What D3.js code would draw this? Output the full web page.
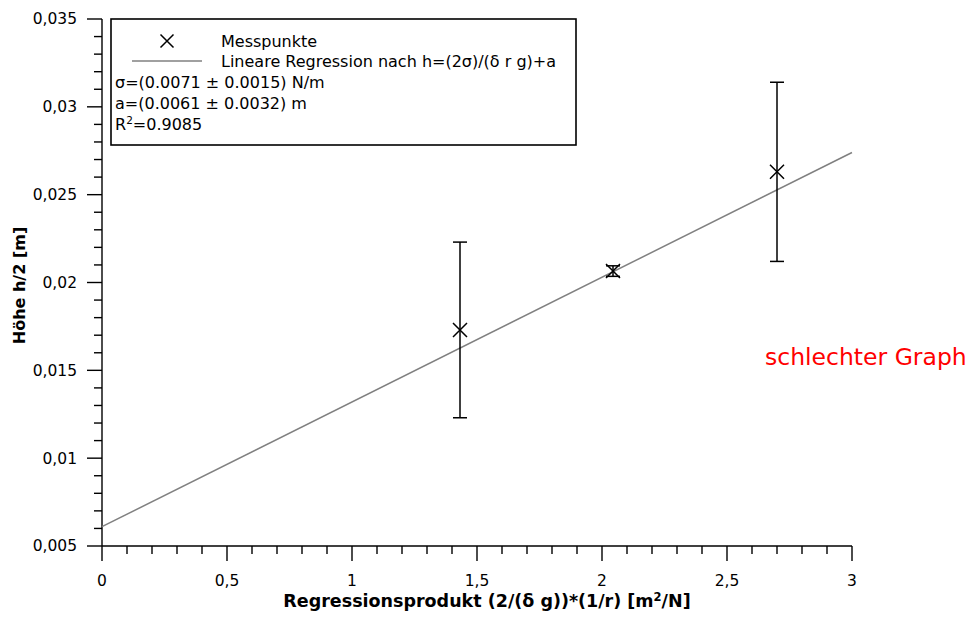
<!DOCTYPE html>
<html>
<head>
<meta charset="utf-8">
<script src="https://cdn.jsdelivr.net/npm/d3@7"></script>
<style>
  html, body { margin: 0; padding: 0; background: #fff; }
  svg { display: block; }
  text { font-family: "DejaVu Sans", Verdana, sans-serif; }
</style>
</head>
<body>
<svg id="chart" width="971" height="619"></svg>
<script>
// ---- data ----
const xValues = [1.432, 2.044, 2.700];
const yValues = [0.0173, 0.02065, 0.02630];
const yErrors = [0.0050, 0.0003, 0.0051];
const fitSlope = 0.0071;       // sigma
const fitIntercept = 0.0061;   // a
const xTickValues = [0, 0.5, 1, 1.5, 2, 2.5, 3];
const xTickLabels = ["0", "0,5", "1", "1,5", "2", "2,5", "3"];
const yTickValues = [0.005, 0.01, 0.015, 0.02, 0.025, 0.03, 0.035];
const yTickLabels = ["0,005", "0,01", "0,015", "0,02", "0,025", "0,03", "0,035"];
const legendLines = ["σ=(0.0071 ± 0.0015) N/m", "a=(0.0061 ± 0.0032) m"];

const svg = d3.select("#chart");
const pLeft = 102, pRight = 852, pTop = 19, pBottom = 546;

const x = d3.scaleLinear().domain([0, 3]).range([pLeft, pRight]);
const y = d3.scaleLinear().domain([0.005, 0.035]).range([pBottom, pTop]);

// minor ticks
const xMinor = d3.range(0, 3.0001, 0.1).map(v => +v.toFixed(2)).filter(v => !xTickValues.some(t => Math.abs(t - v) < 1e-6));
const yMinor = d3.range(0.005, 0.03501, 0.001).map(v => +v.toFixed(4)).filter(v => !yTickValues.some(t => Math.abs(t - v) < 1e-7));

const ax = svg.append("g").attr("stroke", "#000").attr("stroke-width", 1.4);
ax.append("line").attr("x1", pLeft).attr("x2", pRight).attr("y1", pBottom).attr("y2", pBottom);
ax.append("line").attr("x1", pLeft).attr("x2", pLeft).attr("y1", pTop).attr("y2", pBottom);
ax.selectAll(".xM").data(xTickValues).join("line")
  .attr("x1", d => x(d)).attr("x2", d => x(d)).attr("y1", pBottom).attr("y2", pBottom + 15);
ax.selectAll(".xm").data(xMinor).join("line")
  .attr("x1", d => x(d)).attr("x2", d => x(d)).attr("y1", pBottom).attr("y2", pBottom + 8);
ax.selectAll(".yM").data(yTickValues).join("line")
  .attr("x1", pLeft - 15).attr("x2", pLeft).attr("y1", d => y(d)).attr("y2", d => y(d));
ax.selectAll(".ym").data(yMinor).join("line")
  .attr("x1", pLeft - 8).attr("x2", pLeft).attr("y1", d => y(d)).attr("y2", d => y(d));

// tick labels
svg.append("g").selectAll("text").data(xTickValues).join("text")
  .attr("x", d => x(d)).attr("y", pBottom + 40)
  .attr("text-anchor", "middle").attr("font-size", 15.5).attr("fill", "#000")
  .text((d, i) => xTickLabels[i]);
svg.append("g").selectAll("text").data(yTickValues).join("text")
  .attr("x", pLeft - 25).attr("y", d => y(d)).attr("dy", "0.35em")
  .attr("text-anchor", "end").attr("font-size", 15.5).attr("fill", "#000")
  .text((d, i) => yTickLabels[i]);

// axis titles
const xt = svg.append("text").attr("x", 487).attr("y", 607)
  .attr("text-anchor", "middle").attr("font-size", 17.5).attr("font-weight", "bold");
xt.append("tspan").text("Regressionsprodukt (2/(δ g))*(1/r) [m");
xt.append("tspan").attr("font-size", 11.5).attr("dy", -6).text("2");
xt.append("tspan").attr("dy", 6).text("/N]");

svg.append("text").attr("transform", `translate(25,${(pTop + pBottom) / 2 + 3}) rotate(-90)`)
  .attr("text-anchor", "middle").attr("font-size", 16).attr("font-weight", "bold")
  .text("Höhe h/2 [m]");

// regression line
svg.append("line")
  .attr("x1", x(0)).attr("y1", y(fitIntercept))
  .attr("x2", x(3)).attr("y2", y(fitIntercept + fitSlope * 3))
  .attr("stroke", "#808080").attr("stroke-width", 1.5);

// error bars
const eb = svg.append("g").attr("stroke", "#000").attr("stroke-width", 1.5);
xValues.forEach((xv, i) => {
  const cx = x(xv), yt = y(yValues[i] + yErrors[i]), yb = y(yValues[i] - yErrors[i]);
  eb.append("line").attr("x1", cx).attr("x2", cx).attr("y1", yt).attr("y2", yb);
  eb.append("line").attr("x1", cx - 7).attr("x2", cx + 7).attr("y1", yt).attr("y2", yt);
  eb.append("line").attr("x1", cx - 7).attr("x2", cx + 7).attr("y1", yb).attr("y2", yb);
});

// markers
function cross(g, cx, cy, s) {
  g.append("path").attr("d", `M${cx - s},${cy - s}L${cx + s},${cy + s}M${cx - s},${cy + s}L${cx + s},${cy - s}`)
    .attr("stroke", "#000").attr("stroke-width", 1.5).attr("fill", "none");
}
const mk = svg.append("g");
xValues.forEach((xv, i) => cross(mk, x(xv), y(yValues[i]), 7));

// legend
const lg = svg.append("g");
lg.append("rect").attr("x", 111).attr("y", 19).attr("width", 465).attr("height", 126)
  .attr("fill", "#fff").attr("stroke", "#000").attr("stroke-width", 1.6);
cross(lg, 167, 41, 6.5);
lg.append("text").attr("x", 221).attr("y", 47).attr("font-size", 16).text("Messpunkte");
lg.append("line").attr("x1", 132).attr("x2", 202).attr("y1", 61).attr("y2", 61)
  .attr("stroke", "#808080").attr("stroke-width", 1.5);
lg.append("text").attr("x", 221).attr("y", 67).attr("font-size", 16).text("Lineare Regression nach h=(2σ)/(δ r g)+a");
legendLines.forEach((t, i) => {
  lg.append("text").attr("x", 115).attr("y", 88 + i * 21).attr("font-size", 16).text(t);
});
const r2 = lg.append("text").attr("x", 115).attr("y", 130).attr("font-size", 16);
r2.append("tspan").text("R");
r2.append("tspan").attr("font-size", 10.5).attr("dy", -6).text("2");
r2.append("tspan").attr("dy", 6).text("=0.9085");

// annotation
svg.append("text").attr("x", 765).attr("y", 365)
  .attr("font-family", "'Liberation Sans', Arial, sans-serif").attr("font-size", 23.5)
  .attr("fill", "#ff0000").text("schlechter Graph");
</script>
</body>
</html>
